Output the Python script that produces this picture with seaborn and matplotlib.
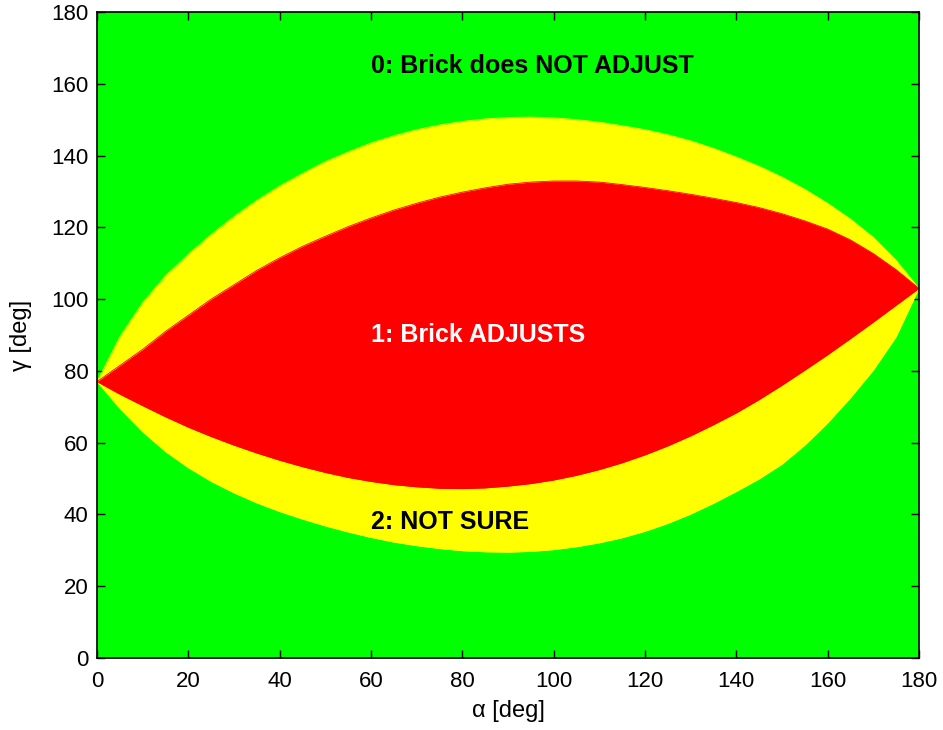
import numpy as np
import pandas as pd
import seaborn as sns
import matplotlib
matplotlib.use("Agg")
import matplotlib.pyplot as plt

# Boundary curves of the brick-adjustment regions (gamma in degrees vs alpha in degrees)
alpha = list(range(0, 181, 5))
yellow_upper = [77, 89.5, 99, 106.5, 112.5, 118, 123, 127.5, 131.5, 135, 138.3, 141,
                143.5, 145.5, 147.2, 148.5, 149.5, 150.2, 150.6, 150.7, 150.5, 150,
                149.3, 148.3, 147.2, 145.8, 144.1, 142, 139.6, 137, 134, 130.6, 126.7,
                122.3, 117.2, 110.8, 103]
red_upper = [77, 81.5, 86, 91, 95.5, 100, 104, 108, 111.5, 114.7, 117.5, 120.2, 122.6,
             124.8, 126.7, 128.4, 129.8, 131, 132, 132.6, 132.9, 132.9, 132.6, 131.9,
             131.1, 130.2, 129.2, 128.1, 126.9, 125.5, 123.8, 121.8, 119.5, 116.5,
             112.7, 108.2, 103]
red_lower = [77, 73.5, 70.3, 67.2, 64.3, 61.7, 59.3, 57.1, 55.1, 53.3, 51.7, 50.3, 49.2,
             48.3, 47.7, 47.3, 47.2, 47.4, 47.9, 48.6, 49.6, 50.9, 52.5, 54.4, 56.6,
             59.1, 61.9, 65, 68.3, 72, 76, 80.2, 84.5, 89, 93.6, 98.3, 103]
yellow_lower = [77, 69.5, 63, 57.5, 53, 49.2, 46, 43.2, 40.8, 38.7, 36.8, 35.1, 33.6,
                32.3, 31.3, 30.5, 29.9, 29.6, 29.5, 29.7, 30.2, 31, 32.1, 33.5, 35.3,
                37.5, 40.1, 43.1, 46.4, 49.9, 54, 59.3, 65.5, 72.5, 80.2, 89.5, 103]

labels = ["0: Brick does NOT ADJUST", "1: Brick ADJUSTS", "2: NOT SURE"]
label_alpha = [60, 60, 60]
label_gamma = [165, 90, 38]
label_colors = ["black", "white", "black"]

GREEN, YELLOW, RED = "#00ff00", "#ffff00", "#ff0000"

sns.set_theme(style="ticks")
plt.rcParams["font.family"] = ["Liberation Sans", "DejaVu Sans"]

df = pd.DataFrame({"alpha": alpha, "yellow_upper": yellow_upper,
                   "red_upper": red_upper, "red_lower": red_lower,
                   "yellow_lower": yellow_lower})

fig = plt.figure(figsize=(9.43, 7.30), dpi=100)
ax = fig.add_axes([0.1029, 0.0986, 0.8716, 0.8850])
ax.set_facecolor(GREEN)

ax.fill_between(df["alpha"], df["yellow_lower"], df["yellow_upper"],
                color=YELLOW, linewidth=0, zorder=1)
ax.fill_between(df["alpha"], df["red_lower"], df["red_upper"],
                color=RED, linewidth=0, zorder=2)

# thin edges along each region boundary
for col, c in [("yellow_upper", YELLOW), ("yellow_lower", YELLOW),
               ("red_upper", RED), ("red_lower", RED)]:
    sns.lineplot(data=df, x="alpha", y=col, color=c, linewidth=0.6, ax=ax,
                 zorder=3, legend=False)

for txt, x, y, c in zip(labels, label_alpha, label_gamma, label_colors):
    ax.text(x, y, txt, color=c, fontsize=18, fontweight="bold",
            ha="left", va="center", zorder=5)

ax.set_xlim(0, 180)
ax.set_ylim(0, 180)
ax.set_xticks(np.arange(0, 181, 20))
ax.set_yticks(np.arange(0, 181, 20))
ax.tick_params(direction="in", length=6, width=1, top=True, right=True,
               labelsize=16, colors="black")
ax.tick_params(axis="x", pad=9)
ax.tick_params(axis="y", pad=6)
for s in ax.spines.values():
    s.set_visible(True)
    s.set_color("black")
    s.set_linewidth(1.2)
    s.set_zorder(6)

ax.set_xlabel("α [deg]", fontsize=17, labelpad=6, color="black")
ax.set_ylabel("γ [deg]", fontsize=17, labelpad=14, color="black")

fig.savefig("out.png", dpi=100, facecolor="white")
